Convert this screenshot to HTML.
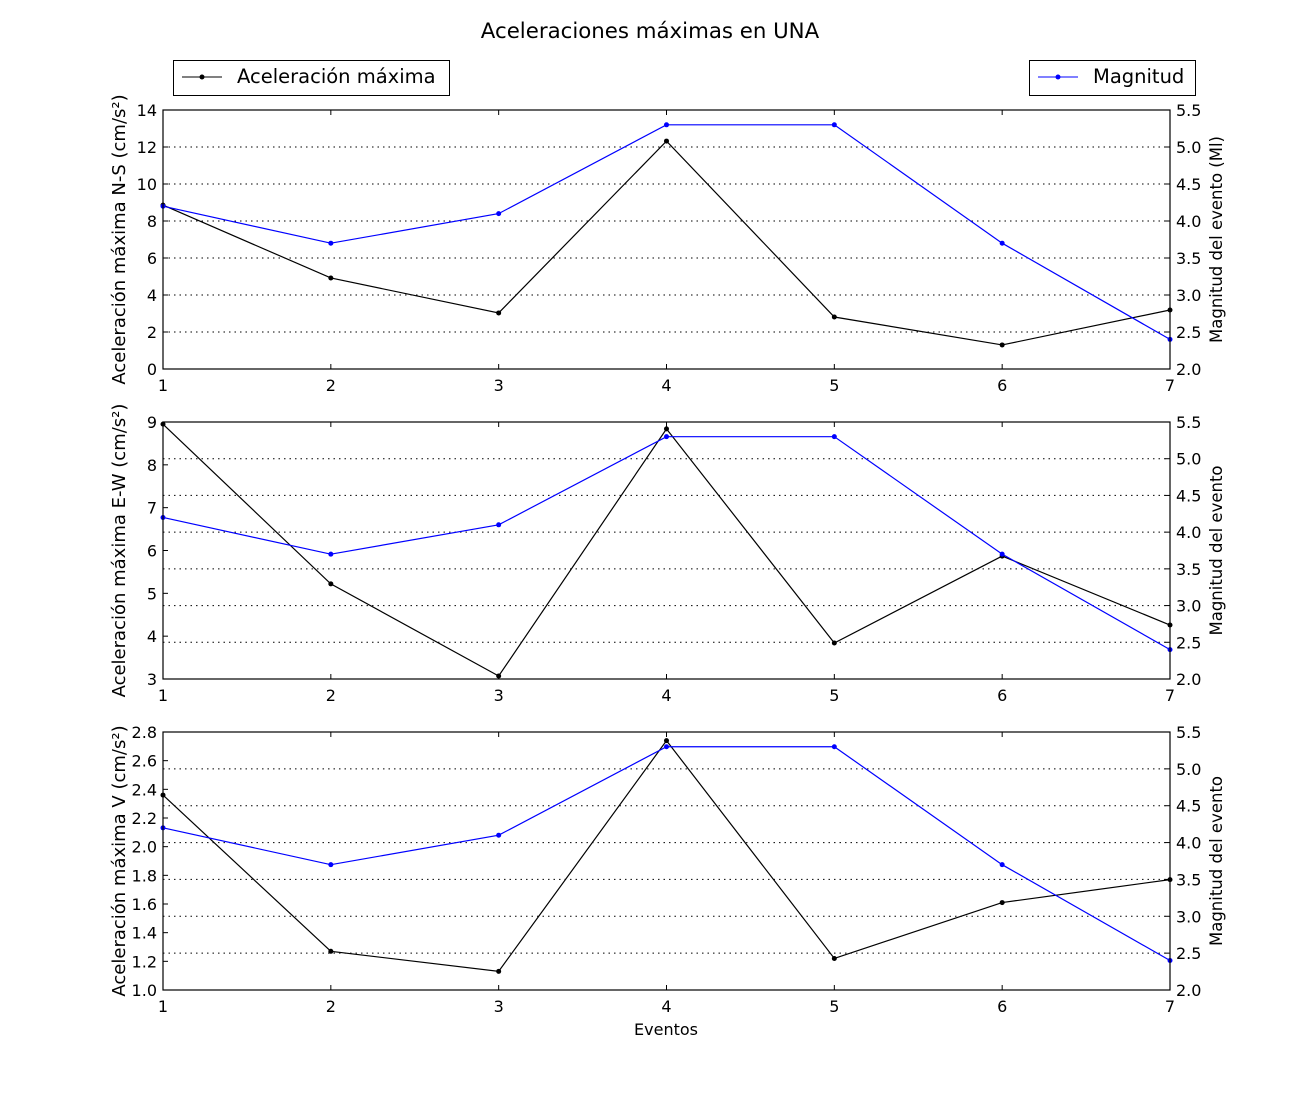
<!DOCTYPE html>
<html><head><meta charset="utf-8"><style>
body{margin:0;background:#fff;}
svg{font-family:"DejaVu Sans","Liberation Sans",sans-serif;}
</style></head><body>
<svg id="chart" width="1300" height="1100" xmlns="http://www.w3.org/2000/svg">
<text x="650" y="38" font-size="21.3" text-anchor="middle">Aceleraciones máximas en UNA</text>
<g>
<rect x="173.5" y="60.5" width="276" height="35" fill="#fff" stroke="#000"/>
<line x1="182" y1="77" x2="222" y2="77" stroke="#000"/><circle cx="202" cy="77" r="2.5"/>
<text x="237" y="83" font-size="19.5">Aceleración máxima</text></g>
<g>
<rect x="1029.5" y="60.5" width="166" height="35" fill="#fff" stroke="#000"/>
<line x1="1038" y1="77" x2="1078" y2="77" stroke="#00f"/><circle cx="1058" cy="77" r="2.5" fill="#00f"/>
<text x="1093" y="83" font-size="19.5">Magnitud</text></g>
<text x="666" y="1035" font-size="16" text-anchor="middle">Eventos</text>
<g id="panels"></g>
</svg>
<script>
const events = [1,2,3,4,5,6,7];
const magnitude = [4.2,3.7,4.1,5.3,5.3,3.7,2.4];
const accNS = [8.86,4.92,3.03,12.32,2.81,1.30,3.19];
const accEW = [8.95,5.22,3.07,8.84,3.84,5.87,4.26];
const accV = [2.36,1.27,1.13,2.74,1.22,1.61,1.77];
const ticksNS = [0,2,4,6,8,10,12,14];
const ticksEW = [3,4,5,6,7,8,9];
const ticksV = [1.0,1.2,1.4,1.6,1.8,2.0,2.2,2.4,2.6,2.8];
const magTicks = [2.0,2.5,3.0,3.5,4.0,4.5,5.0,5.5];

const NS='http://www.w3.org/2000/svg';
const root=document.getElementById('panels');
function mk(tag,attrs,parent){const e=document.createElementNS(NS,tag);for(const k in attrs)e.setAttribute(k,attrs[k]);parent.appendChild(e);return e;}
const X0=163,X1=1170;
const xs=v=>X0+(v-1)/(6)*(X1-X0);
const panels=[
 {name:'ns',top:110,bot:369,data:accNS,ticks:ticksNS,dec:0,label:'Aceleración máxima N-S (cm/s²)',rlabel:'Magnitud del evento (Ml)'},
 {name:'ew',top:422,bot:679,data:accEW,ticks:ticksEW,dec:0,label:'Aceleración máxima E-W (cm/s²)',rlabel:'Magnitud del evento'},
 {name:'v',top:732,bot:990,data:accV,ticks:ticksV,dec:1,label:'Aceleración máxima V (cm/s²)',rlabel:'Magnitud del evento'}
];
panels.forEach(p=>{
 const g=mk('g',{},root);
 
 
 const lmin=p.ticks[0],lmax=p.ticks[p.ticks.length-1];
 const yl=v=>p.bot-(v-lmin)/(lmax-lmin)*(p.bot-p.top);
 const yr=v=>p.bot-(v-2.0)/(5.5-2.0)*(p.bot-p.top);
 magTicks.forEach(t=>{
  if(t>2.0&&t<5.5){const l=mk('line',{x1:X0,x2:X1,y1:yr(t),y2:yr(t),stroke:'#000','stroke-width':1,'stroke-dasharray':'1.5,4'},g);
  
  }
  const y=yr(t);
  mk('line',{x1:X1-5,x2:X1,y1:y,y2:y,stroke:'#000'},g);
  const tx=mk('text',{x:X1+6,y:y+6,'font-size':16},g);tx.textContent=t.toFixed(1);
  
  
 });
 p.ticks.forEach(t=>{
  const y=yl(t);
  mk('line',{x1:X0,x2:X0+5,y1:y,y2:y,stroke:'#000'},g);
  const tx=mk('text',{x:X0-6,y:y+6,'font-size':16,'text-anchor':'end'},g);tx.textContent=t.toFixed(p.dec);
  
  
 });
 events.forEach(e=>{
  const x=xs(e);
  mk('line',{x1:x,x2:x,y1:p.bot,y2:p.bot-5,stroke:'#000'},g);
  mk('line',{x1:x,x2:x,y1:p.top,y2:p.top+5,stroke:'#000'},g);
  const tx=mk('text',{x:x,y:p.bot+22,'font-size':16,'text-anchor':'middle'},g);tx.textContent=e;
  
  
 });
 const draw=(vals,ys,col,nm)=>{
  const pl=mk('polyline',{points:vals.map((v,i)=>xs(events[i])+','+ys(v)).join(' '),fill:'none',stroke:col,'stroke-width':1.2},g);
  
  
  vals.forEach((v,i)=>{const c=mk('circle',{cx:xs(events[i]),cy:ys(v),r:2.5,fill:col},g);
   
   });
 };
 draw(p.data,yl,'#000','acceleration-'+p.name);
 draw(magnitude,yr,'#00f','magnitude-'+p.name);
 mk('rect',{x:X0,y:p.top,width:X1-X0,height:p.bot-p.top,fill:'none',stroke:'#000','stroke-width':1.2},g);
 const cy=(p.top+p.bot)/2;
 const ll=mk('text',{x:0,y:0,'font-size':18,'text-anchor':'middle',transform:`translate(125,${cy}) rotate(-90)`},g);ll.textContent=p.label;
 
 
 const rl=mk('text',{x:0,y:0,'font-size':16.5,'text-anchor':'middle',transform:`translate(1222,${cy}) rotate(-90)`},g);rl.textContent=p.rlabel;
 
 
});
</script>
</body></html>
